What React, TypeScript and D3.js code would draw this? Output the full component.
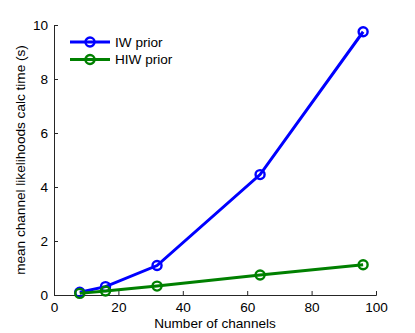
import React, { useEffect, useRef } from "react";
import * as d3 from "d3";

const channels = [8, 16, 32, 64, 96];
const iwPrior = [0.1, 0.31, 1.09, 4.46, 9.75];
const hiwPrior = [0.06, 0.15, 0.33, 0.74, 1.12];
const xTicks = [0, 20, 40, 60, 80, 100];
const yTicks = [0, 2, 4, 6, 8, 10];

const series = [
  { name: "IW prior", values: iwPrior, color: "#0000ff" },
  { name: "HIW prior", values: hiwPrior, color: "#008000" },
];

export default function App() {
  const svgRef = useRef<SVGSVGElement | null>(null);

  useEffect(() => {
    if (!svgRef.current) return;
    const svg = d3.select(svgRef.current);
    svg.selectAll("*").remove();

    const margin = { top: 25, right: 39, bottom: 38, left: 54 };
    const width = 415 - margin.left - margin.right;
    const height = 333 - margin.top - margin.bottom;
    const font = "'Liberation Sans', Arial, sans-serif";
    const fontSize = "13.6px";

    const g = svg
      .append("g")
      .attr("transform", `translate(${margin.left},${margin.top})`);

    const x = d3.scaleLinear().domain([0, 100]).range([0, width]);
    const y = d3.scaleLinear().domain([0, 10]).range([height, 0]);

    // axes, MATLAB style: ticks pointing in, no box
    const xAxis = g
      .append("g")
      .attr("transform", `translate(0,${height})`)
      .call(d3.axisBottom(x).tickValues(xTicks).tickSizeInner(-4).tickSizeOuter(-4).tickPadding(7));
    const yAxis = g
      .append("g")
      .call(d3.axisLeft(y).tickValues(yTicks).tickSizeInner(-4).tickSizeOuter(-4).tickPadding(6));

    [xAxis, yAxis].forEach((a) => {
      a.selectAll("path, line").attr("stroke", "#262626").attr("stroke-width", 1);
      a.selectAll("text")
        .attr("fill", "#000")
        .style("font-family", font)
        .style("font-size", fontSize);
    });

    g.append("text")
      .attr("x", width / 2)
      .attr("y", height + 33)
      .attr("text-anchor", "middle")
      .style("font-family", font)
      .style("font-size", fontSize)
      .text("Number of channels");

    g.append("text")
      .attr("transform", "rotate(-90)")
      .attr("x", -(160 - margin.top))
      .attr("y", -29)
      .attr("text-anchor", "middle")
      .style("font-family", font)
      .style("font-size", fontSize)
      .text("mean channel likelihoods calc time (s)");

    const line = d3
      .line<number>()
      .x((_, i) => x(channels[i]))
      .y((d) => y(d));

    series.forEach((s) => {
      g.append("path")
        .datum(s.values)
        .attr("fill", "none")
        .attr("stroke", s.color)
        .attr("stroke-width", 3)
        .attr("d", line);
      g.selectAll(null)
        .data(s.values)
        .enter()
        .append("circle")
        .attr("cx", (_, i) => x(channels[i]))
        .attr("cy", (d) => y(d))
        .attr("r", 4.5)
        .attr("fill", "none")
        .attr("stroke", s.color)
        .attr("stroke-width", 2.4);
    });

    // legend
    const legend = g.append("g").attr("transform", "translate(16,17)");
    series.forEach((s, i) => {
      const row = legend.append("g").attr("transform", `translate(0,${i * 17.5})`);
      row.append("line")
        .attr("x1", 0)
        .attr("x2", 40)
        .attr("stroke", s.color)
        .attr("stroke-width", 3);
      row.append("circle")
        .attr("cx", 20)
        .attr("r", 4.5)
        .attr("fill", "none")
        .attr("stroke", s.color)
        .attr("stroke-width", 2.4);
      row.append("text")
        .attr("x", 45)
        .attr("dy", "0.35em")
        .style("font-family", font)
        .style("font-size", fontSize)
        .text(s.name);
    });
  }, []);

  return (
    <svg
      ref={svgRef}
      width={415}
      height={333}
      style={{ position: "absolute", left: 0, top: 0, background: "#fff" }}
    />
  );
}
